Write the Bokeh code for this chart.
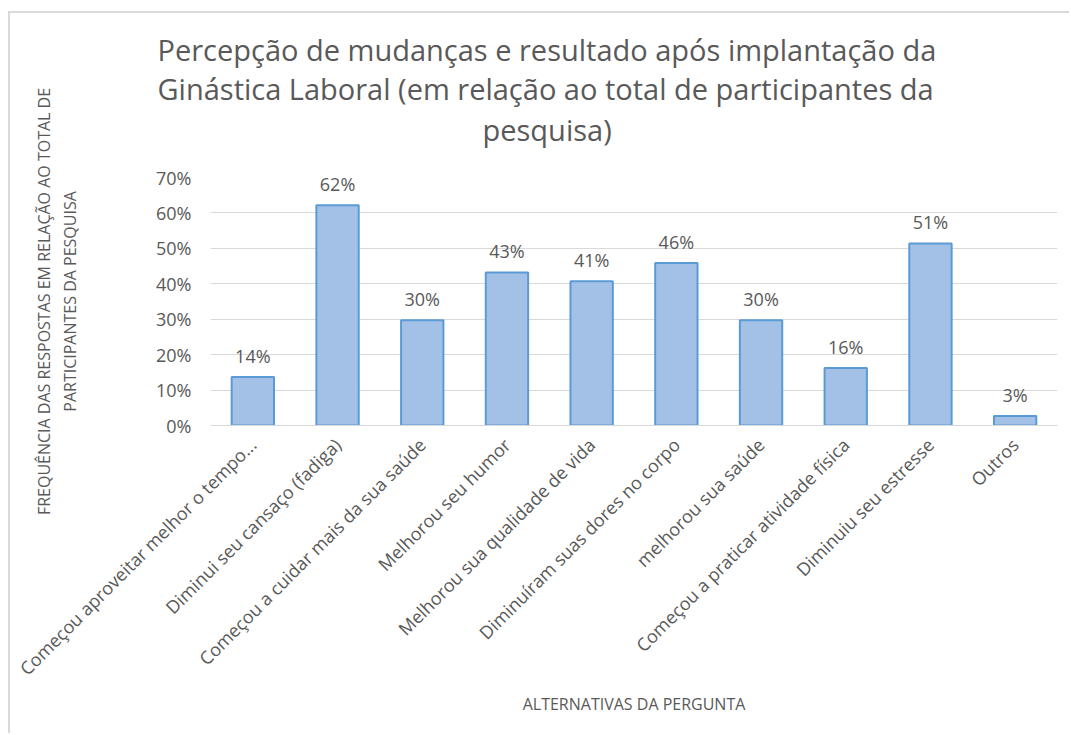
from math import pi
from bokeh.plotting import figure
from bokeh.models import (ColumnDataSource, FactorRange, Range1d, LabelSet, Title,
                          NumeralTickFormatter, FixedTicker)
from bokeh.core.properties import value
from bokeh.embed import file_html
from bokeh.resources import INLINE

categories = [
    "Começou aproveitar melhor o tempo...",
    "Diminui seu cansaço (fadiga)",
    "Começou a cuidar mais da sua saúde",
    "Melhorou seu humor",
    "Melhorou sua qualidade de vida",
    "Diminuíram suas dores no corpo",
    "melhorou sua saúde",
    "Começou a praticar atividade física",
    "Diminuiu seu estresse",
    "Outros",
]
values = [0.137, 0.622, 0.297, 0.432, 0.407, 0.459, 0.297, 0.162, 0.514, 0.027]
y_ticks = [0.0, 0.1, 0.2, 0.3, 0.4, 0.5, 0.6, 0.7]

title_top = ("Percepção de mudanças e resultado após implantação da\n"
             "Ginástica Laboral (em relação ao total de participantes da")
title_bottom = "pesquisa)"

y_label = ("FREQUÊNCIA DAS RESPOSTAS EM RELAÇÃO AO TOTAL DE\n"
           "PARTICIPANTES DA PESQUISA")
x_label = "ALTERNATIVAS DA PERGUNTA"

FONT = "Open Sans"
GRAY = "#595959"

labels = ["{:.0f}%".format(v * 100) for v in values]
src = ColumnDataSource(dict(cat=categories, val=values, lab=labels))

p = figure(
    x_range=FactorRange(*categories),
    y_range=Range1d(0, 0.7),
    width=1061, height=722,
    output_backend="svg", toolbar_location=None,
    min_border_left=200, min_border_right=14,
    min_border_top=164, min_border_bottom=310,
)

p.vbar(x="cat", top="val", width=0.5, source=src,
       fill_color="#a3c1e7", line_color="#5b9bd5", line_width=2)

p.add_layout(LabelSet(x="cat", y="val", text="lab", source=src,
                      text_align="center", text_baseline="bottom", y_offset=9,
                      text_font=value(FONT), text_font_size="18px", text_color=GRAY))

# first-added title sits closest to the plot area
p.add_layout(Title(text=title_bottom, align="left", offset=272, standoff=58,
                   text_font=FONT, text_font_size="29px",
                   text_font_style="normal", text_color=GRAY), "above")
p.add_layout(Title(text=title_top, align="left", offset=-53, standoff=-58,
                   text_font=FONT, text_font_size="29px",
                   text_font_style="normal", text_color=GRAY), "above")

p.outline_line_color = None
p.xgrid.grid_line_color = None
p.ygrid.grid_line_color = "#d9d9d9"
p.ygrid.grid_line_width = 1

p.yaxis.ticker = FixedTicker(ticks=y_ticks)
p.yaxis.formatter = NumeralTickFormatter(format="0%")
p.yaxis.axis_line_color = None
p.yaxis.major_tick_line_color = None
p.yaxis.minor_tick_line_color = None
p.yaxis.major_label_text_font = FONT
p.yaxis.major_label_text_font_size = "18px"
p.yaxis.major_label_text_color = GRAY
p.yaxis.major_label_standoff = 13
p.yaxis.axis_label = y_label
p.yaxis.axis_label_text_font = FONT
p.yaxis.axis_label_text_font_size = "16px"
p.yaxis.axis_label_text_font_style = "normal"
p.yaxis.axis_label_text_color = GRAY
p.yaxis.axis_label_standoff = 72

p.xaxis.axis_line_color = "#d9d9d9"
p.xaxis.major_tick_line_color = None
p.xaxis.minor_tick_line_color = None
p.xaxis.major_label_orientation = pi / 4
p.xaxis.major_label_text_font = FONT
p.xaxis.major_label_text_font_size = "18px"
p.xaxis.major_label_text_color = GRAY
p.xaxis.major_label_standoff = 10
p.xaxis.axis_label = x_label
p.xaxis.axis_label_text_font = FONT
p.xaxis.axis_label_text_font_size = "16px"
p.xaxis.axis_label_text_font_style = "normal"
p.xaxis.axis_label_text_color = GRAY
p.xaxis.axis_label_standoff = 1

p.styles = {"margin-left": "8px", "margin-top": "11px",
            "border-left": "2px solid #d9d9d9", "border-top": "2px solid #d9d9d9"}

open("out.html", "w").write(file_html(p, INLINE))
